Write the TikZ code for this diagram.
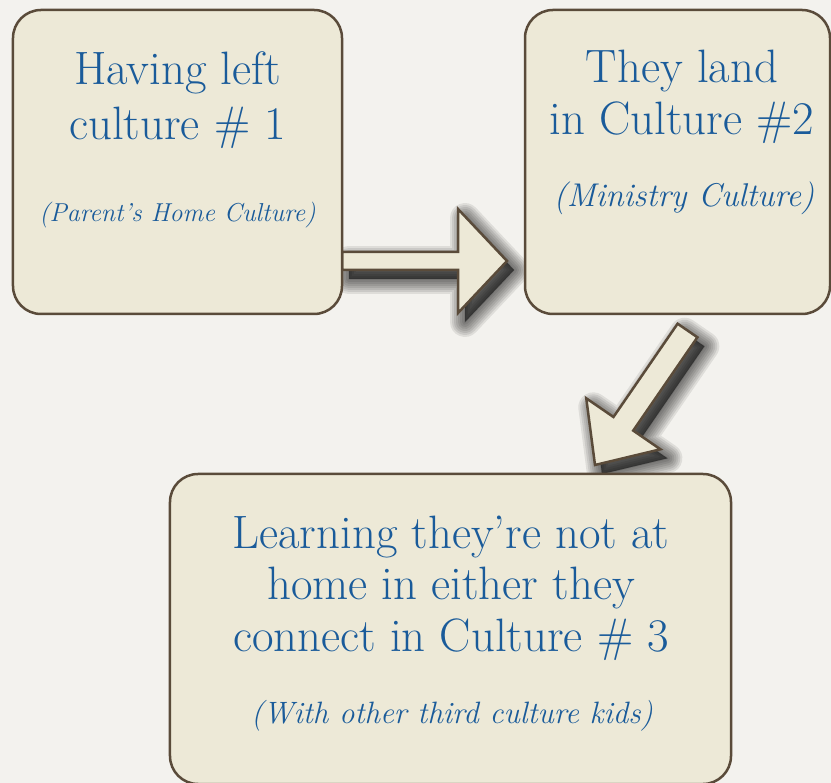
\documentclass[tikz,border=0pt]{standalone}
\usetikzlibrary{calc}

\definecolor{paper}{HTML}{F3F2EE}
\definecolor{boxfill}{HTML}{EDE9D7}
\definecolor{boxline}{HTML}{5A4B3A}
\definecolor{txtblue}{HTML}{1A5B9A}

% block arrow from #2 to #3, named #1
\newcommand{\blockarrow}[6]{%
  \coordinate (#1-hb) at ($(#3)!#6!(#2)$);
  \coordinate (#1-1) at ($(#2)!#4!90:(#3)$);
  \coordinate (#1-2) at ($(#1-hb)!#4!90:(#3)$);
  \coordinate (#1-3) at ($(#1-hb)!#5!90:(#3)$);
  \coordinate (#1-4) at ($(#1-hb)!#5!-90:(#3)$);
  \coordinate (#1-5) at ($(#1-hb)!#4!-90:(#3)$);
  \coordinate (#1-6) at ($(#2)!#4!-90:(#3)$);
  \foreach \w in {30,26,22,18,14,10,6,2}
    \filldraw[shadowlayer, line width=\w pt] (#1-1) -- (#1-2) -- (#1-3) -- (#3) -- (#1-4) -- (#1-5) -- (#1-6) -- cycle;
  \filldraw[arrowbody] (#1-1) -- (#1-2) -- (#1-3) -- (#3) -- (#1-4) -- (#1-5) -- (#1-6) -- cycle;
}

\begin{document}
\begin{tikzpicture}[x=1bp, y=1bp,
  box/.style={draw=boxline, fill=boxfill, line width=2.5bp, rounded corners=28bp, inner sep=0pt},
  title/.style={text=txtblue, font=\fontsize{47}{55}\selectfont, inner sep=0pt, anchor=base},
  note/.style={text=txtblue, font=\itshape\fontsize{#1}{#1}\selectfont, inner sep=0pt, anchor=base},
  arrowbody/.style={draw=boxline, fill=boxfill, line width=2.5bp, line join=miter},
  shadowlayer/.style={draw=black, fill=black, opacity=0.085, line join=round,
    transform canvas={xshift=7bp, yshift=-9bp}}]
%\draw[step=50,gray,very thin] (0,0) grid (831,783);

\useasboundingbox (0,0) rectangle (831,783);
\fill[paper] (0,0) rectangle (831,783);

% arrows first, the boxes cover their ends
\coordinate (a1start) at (342,522);
\coordinate (a1tip) at (507,522);
\blockarrow{a1}{a1start}{a1tip}{9bp}{52bp}{49bp}

\coordinate (a2start) at (687.5,452.5);
\coordinate (a2tip) at (595,318);
\blockarrow{a2}{a2start}{a2tip}{12bp}{45bp}{50bp}

\node[box, minimum width=329bp, minimum height=304bp] (home) at (177.5,621) {};
\node[box, minimum width=305bp, minimum height=304bp] (ministry) at (677.5,621) {};
\node[box, minimum width=561bp, minimum height=310bp] (third) at (450.5,154) {};

\node[title] (home1) at (177.5,698) {Having left};
\node[title] (home2) at (177.5,643) {culture \# 1};
\node[note=26] (homenote) at (177.5,561) {(Parent’s Home Culture)};

\node[title] (min1) at (682,700) {They land};
\node[title] (min2) at (682,648) {in Culture \#2};
\node[note=33] (minnote) at (684,576) {(Ministry Culture)};

\node[title] (third1) at (451,234) {Learning they’re not at};
\node[title] (third2) at (451,183) {home in either they};
\node[title] (third3) at (451,131) {connect in Culture \# 3};
\node[note=31] (thirdnote) at (452,59) {(With other third culture kids)};

\end{tikzpicture}
\end{document}
